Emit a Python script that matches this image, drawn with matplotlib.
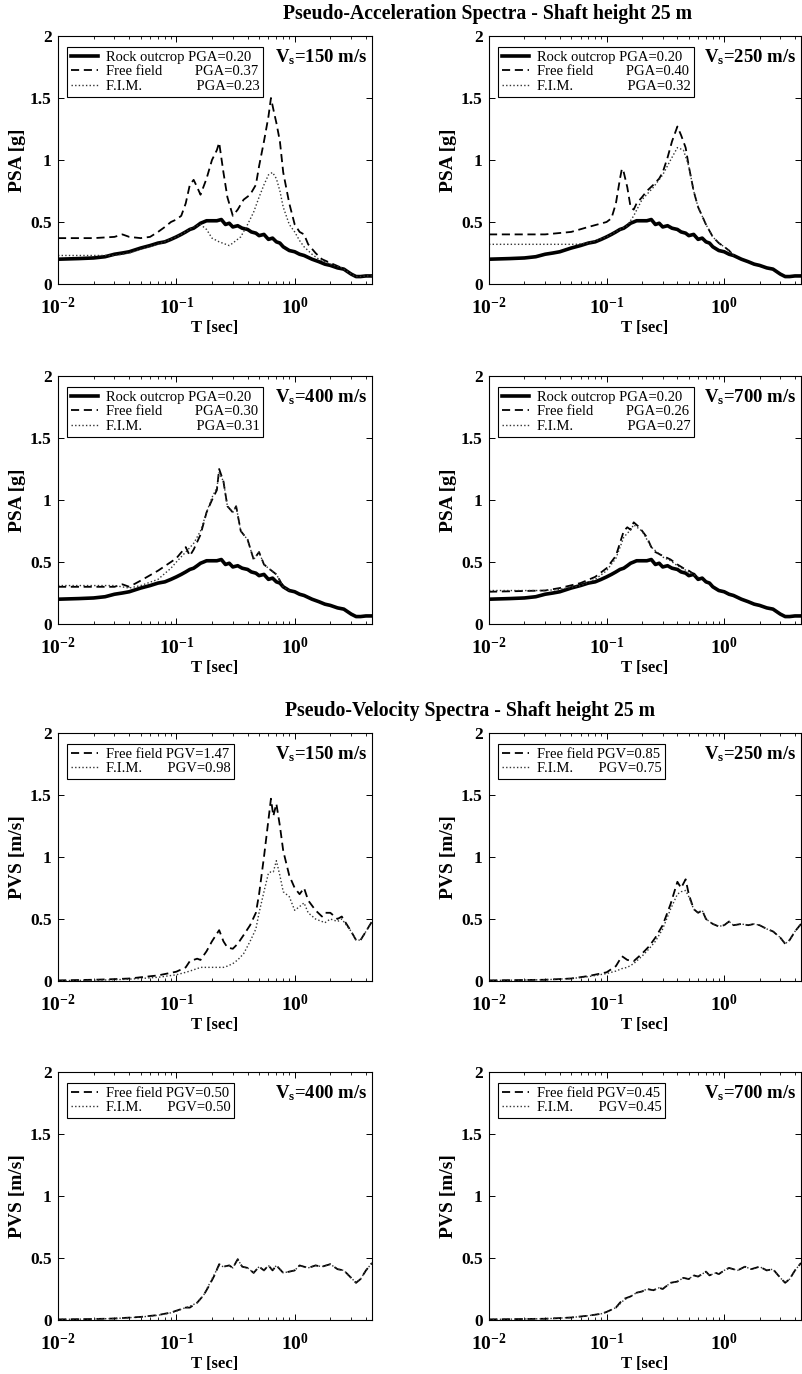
import matplotlib
matplotlib.use("Agg")
import matplotlib.pyplot as plt

plt.rcParams['font.family'] = ['Liberation Serif', 'DejaVu Serif']
plt.rcParams['mathtext.fontset'] = 'custom'
plt.rcParams['mathtext.rm'] = 'Liberation Serif:bold'
plt.rcParams['mathtext.bf'] = 'Liberation Serif:bold'

# ---- data (periods in s) ----
rock_T = [0.01, 0.015, 0.02, 0.025, 0.03, 0.035, 0.04, 0.05, 0.06, 0.07, 0.08, 0.09, 0.1, 0.11,
          0.12, 0.13, 0.14, 0.15, 0.16, 0.17, 0.18, 0.2, 0.22, 0.24, 0.26, 0.28, 0.3, 0.33, 0.36,
          0.4, 0.43, 0.47, 0.5, 0.55, 0.6, 0.65, 0.7, 0.75, 0.8, 0.9, 1.0, 1.1, 1.2, 1.4, 1.6,
          1.8, 2.0, 2.3, 2.6, 3.0, 3.3, 3.6, 4.0, 4.5]
rock_psa = [0.20, 0.205, 0.21, 0.22, 0.24, 0.25, 0.26, 0.29, 0.31, 0.33, 0.34, 0.36, 0.38, 0.40,
            0.42, 0.44, 0.45, 0.47, 0.49, 0.50, 0.51, 0.51, 0.51, 0.52, 0.48, 0.49, 0.46, 0.47, 0.45,
            0.44, 0.42, 0.41, 0.39, 0.40, 0.36, 0.37, 0.34, 0.33, 0.30, 0.27, 0.26, 0.24, 0.23, 0.20, 0.18,
            0.16, 0.15, 0.13, 0.12, 0.08, 0.06, 0.06, 0.065, 0.065]

ff150_T = [0.01, 0.02, 0.03, 0.035, 0.04, 0.05, 0.06, 0.07, 0.08, 0.09, 0.1, 0.11, 0.12, 0.13, 0.14,
           0.15, 0.16, 0.18, 0.2, 0.22, 0.23, 0.25, 0.27, 0.3, 0.33, 0.37, 0.42, 0.47, 0.5, 0.55,
           0.6, 0.63, 0.67, 0.7, 0.75, 0.8, 0.9, 1.0, 1.1, 1.2, 1.3, 1.5, 1.7, 2.0, 2.5, 3.0, 3.3,
           3.6, 4.0, 4.5]
ff150_psa = [0.37, 0.37, 0.38, 0.40, 0.38, 0.37, 0.38, 0.42, 0.46, 0.50, 0.52, 0.55, 0.65, 0.80, 0.84,
             0.78, 0.72, 0.85, 1.00, 1.08, 1.14, 0.90, 0.70, 0.55, 0.60, 0.68, 0.72, 0.80, 0.95, 1.15,
             1.35, 1.50, 1.38, 1.30, 1.15, 0.90, 0.65, 0.48, 0.42, 0.40, 0.32, 0.25, 0.20, 0.17, 0.13, 0.08,
             0.06, 0.06, 0.065, 0.065]
fim150_T = [0.01, 0.03, 0.04, 0.05, 0.07, 0.1, 0.12, 0.14, 0.16, 0.18, 0.2, 0.23, 0.28, 0.3, 0.35,
            0.4, 0.45, 0.5, 0.55, 0.6, 0.65, 0.7, 0.75, 0.8, 0.9, 1.0, 1.1, 1.2, 1.4, 1.6, 2.0, 2.5,
            3.0, 3.3, 3.6, 4.0, 4.5]
fim150_psa = [0.23, 0.23, 0.25, 0.28, 0.32, 0.38, 0.42, 0.46, 0.48, 0.44, 0.37, 0.34, 0.31, 0.33, 0.38,
              0.48, 0.58, 0.70, 0.80, 0.88, 0.90, 0.85, 0.75, 0.62, 0.48, 0.42, 0.35, 0.30, 0.24, 0.20, 0.16,
              0.13, 0.08, 0.06, 0.06, 0.065, 0.065]

ff250_T = [0.01, 0.03, 0.05, 0.07, 0.1, 0.11, 0.12, 0.13, 0.135, 0.14, 0.15, 0.16, 0.17, 0.18, 0.2,
           0.22, 0.25, 0.28, 0.3, 0.33, 0.36, 0.4, 0.43, 0.47, 0.5, 0.55, 0.6, 0.7, 0.8, 0.9, 1.0,
           1.1, 1.2]
ff250_psa = [0.40, 0.40, 0.42, 0.46, 0.50, 0.53, 0.65, 0.85, 0.93, 0.90, 0.78, 0.62, 0.60, 0.65, 0.70,
             0.75, 0.80, 0.85, 0.90, 1.02, 1.15, 1.27, 1.20, 1.10, 0.95, 0.75, 0.62, 0.48, 0.38, 0.33, 0.30,
             0.27, 0.23]
fim250_T = [0.01, 0.055, 0.07, 0.1, 0.13, 0.15, 0.17, 0.2, 0.25, 0.3, 0.35, 0.4, 0.45, 0.5, 0.55, 0.6,
            0.7, 0.8, 0.9, 1.0, 1.1, 1.2]
fim250_psa = [0.32, 0.32, 0.33, 0.38, 0.44, 0.47, 0.55, 0.68, 0.78, 0.88, 1.00, 1.10, 1.08, 0.95, 0.75,
              0.62, 0.48, 0.38, 0.33, 0.30, 0.27, 0.23]

ff400_T = [0.01, 0.03, 0.035, 0.04, 0.05, 0.07, 0.09, 0.1, 0.12, 0.13, 0.14, 0.16, 0.18, 0.2, 0.22,
           0.23, 0.25, 0.27, 0.3, 0.32, 0.35, 0.4, 0.45, 0.5, 0.55, 0.6, 0.7, 0.75, 0.8, 0.9]
ff400_psa = [0.30, 0.30, 0.32, 0.30, 0.35, 0.43, 0.50, 0.53, 0.62, 0.55, 0.60, 0.72, 0.90, 1.00, 1.08,
             1.25, 1.15, 0.95, 0.90, 0.95, 0.75, 0.68, 0.52, 0.58, 0.48, 0.45, 0.40, 0.35, 0.30, 0.27]
fim400_T = [0.01, 0.03, 0.04, 0.05, 0.07, 0.09, 0.1, 0.12, 0.14, 0.16, 0.18, 0.2, 0.22, 0.23, 0.25,
            0.27, 0.3, 0.32, 0.35, 0.4, 0.45, 0.5, 0.55, 0.6, 0.7, 0.75, 0.8, 0.9]
fim400_psa = [0.31, 0.31, 0.29, 0.31, 0.36, 0.45, 0.50, 0.58, 0.65, 0.75, 0.90, 1.02, 1.10, 1.22, 1.15,
              0.95, 0.90, 0.95, 0.75, 0.68, 0.52, 0.58, 0.48, 0.45, 0.40, 0.35, 0.30, 0.27]

ff700_T = [0.01, 0.03, 0.04, 0.06, 0.08, 0.1, 0.12, 0.14, 0.15, 0.16, 0.17, 0.19, 0.22, 0.24, 0.26,
           0.3, 0.35, 0.4, 0.45, 0.5, 0.6]
ff700_psa = [0.26, 0.27, 0.29, 0.33, 0.38, 0.45, 0.55, 0.75, 0.78, 0.76, 0.82, 0.78, 0.70, 0.62, 0.58,
             0.55, 0.52, 0.48, 0.45, 0.43, 0.38]
fim700_T = [0.01, 0.03, 0.04, 0.06, 0.08, 0.1, 0.12, 0.14, 0.16, 0.17, 0.2, 0.24, 0.3, 0.35, 0.4,
            0.5, 0.6]
fim700_psa = [0.27, 0.27, 0.28, 0.31, 0.36, 0.43, 0.53, 0.70, 0.76, 0.80, 0.75, 0.62, 0.54, 0.51, 0.47,
              0.42, 0.38]

# pseudo-velocity (m/s)
v150_T = [0.01, 0.02, 0.03, 0.04, 0.05, 0.07, 0.1, 0.12, 0.13, 0.15, 0.16, 0.18, 0.2, 0.23, 0.25,
          0.27, 0.3, 0.33, 0.37, 0.42, 0.47, 0.5, 0.55, 0.6, 0.63, 0.66, 0.7, 0.75, 0.8, 0.9, 1.0,
          1.1, 1.2, 1.3, 1.5, 1.7, 1.8, 2.0, 2.3, 2.5, 3.0, 3.3, 3.6, 4.0, 4.5]
ff150_pvs = [0.005, 0.01, 0.015, 0.02, 0.03, 0.045, 0.075, 0.11, 0.16, 0.18, 0.17, 0.24, 0.32, 0.41, 0.32,
             0.27, 0.26, 0.30, 0.37, 0.45, 0.55, 0.70, 1.00, 1.30, 1.47, 1.33, 1.43, 1.25, 1.05, 0.85, 0.75,
             0.70, 0.75, 0.65, 0.57, 0.52, 0.55, 0.55, 0.50, 0.52, 0.40, 0.33, 0.33, 0.40, 0.48]
fim150_pvs = [0.003, 0.006, 0.01, 0.015, 0.02, 0.03, 0.05, 0.07, 0.08, 0.10, 0.11, 0.11, 0.11, 0.11, 0.11,
              0.12, 0.14, 0.17, 0.22, 0.32, 0.42, 0.55, 0.72, 0.87, 0.88, 0.88, 0.97, 0.85, 0.72, 0.68, 0.57,
              0.60, 0.63, 0.55, 0.50, 0.48, 0.47, 0.50, 0.48, 0.50, 0.40, 0.33, 0.33, 0.40, 0.48]

v250_T = [0.01, 0.03, 0.05, 0.07, 0.1, 0.12, 0.135, 0.15, 0.17, 0.2, 0.23, 0.26, 0.3, 0.35, 0.4,
          0.43, 0.47, 0.5, 0.55, 0.6, 0.65, 0.7, 0.8, 0.9, 1.0, 1.1, 1.2, 1.4, 1.6, 1.8, 2.0, 2.3,
          2.6, 3.0, 3.3, 3.6, 4.0, 4.5]
ff250_pvs = [0.005, 0.01, 0.02, 0.04, 0.07, 0.12, 0.20, 0.17, 0.16, 0.22, 0.28, 0.35, 0.45, 0.62, 0.80,
             0.75, 0.82, 0.70, 0.58, 0.55, 0.57, 0.50, 0.46, 0.44, 0.45, 0.48, 0.45, 0.46, 0.45, 0.46, 0.45,
             0.42, 0.40, 0.35, 0.30, 0.33, 0.40, 0.46]
fim250_pvs = [0.004, 0.01, 0.02, 0.035, 0.06, 0.08, 0.10, 0.11, 0.14, 0.20, 0.26, 0.32, 0.42, 0.58, 0.70,
              0.72, 0.73, 0.68, 0.58, 0.55, 0.57, 0.50, 0.46, 0.44, 0.45, 0.48, 0.45, 0.46, 0.45, 0.46, 0.45,
              0.42, 0.40, 0.35, 0.30, 0.33, 0.40, 0.46]

v400_T = [0.01, 0.02, 0.03, 0.05, 0.07, 0.09, 0.1, 0.12, 0.13, 0.15, 0.17, 0.19, 0.21, 0.23, 0.25,
          0.28, 0.3, 0.33, 0.36, 0.4, 0.45, 0.5, 0.55, 0.6, 0.65, 0.7, 0.8, 0.9, 1.0, 1.1, 1.3, 1.5,
          1.7, 2.0, 2.3, 2.6, 3.0, 3.3, 3.6, 4.0, 4.5]
ff400_pvs = [0.005, 0.008, 0.012, 0.025, 0.04, 0.06, 0.075, 0.10, 0.10, 0.14, 0.20, 0.28, 0.36, 0.45, 0.43,
             0.44, 0.42, 0.49, 0.43, 0.42, 0.38, 0.43, 0.40, 0.44, 0.40, 0.44, 0.38, 0.39, 0.40, 0.44, 0.42,
             0.44, 0.43, 0.45, 0.41, 0.40, 0.34, 0.30, 0.33, 0.40, 0.46]
fim400_pvs = [0.005, 0.008, 0.012, 0.024, 0.038, 0.058, 0.072, 0.10, 0.11, 0.14, 0.20, 0.29, 0.37, 0.44, 0.43,
              0.44, 0.42, 0.49, 0.43, 0.42, 0.38, 0.43, 0.40, 0.44, 0.40, 0.44, 0.38, 0.39, 0.40, 0.44, 0.42,
              0.44, 0.43, 0.45, 0.41, 0.40, 0.34, 0.30, 0.33, 0.40, 0.46]

v700_T = [0.01, 0.03, 0.05, 0.07, 0.09, 0.1, 0.12, 0.13, 0.14, 0.16, 0.18, 0.2, 0.22, 0.25, 0.28,
          0.3, 0.35, 0.4, 0.45, 0.5, 0.55, 0.6, 0.7, 0.75, 0.85, 0.9, 1.0, 1.1, 1.3, 1.5, 1.7, 2.0,
          2.3, 2.6, 3.0, 3.3, 3.6, 4.0, 4.5]
ff700_pvs = [0.005, 0.01, 0.02, 0.035, 0.05, 0.065, 0.10, 0.14, 0.17, 0.19, 0.22, 0.23, 0.25, 0.24, 0.26,
             0.25, 0.30, 0.31, 0.34, 0.33, 0.36, 0.35, 0.39, 0.36, 0.38, 0.37, 0.40, 0.42, 0.40, 0.43, 0.41,
             0.43, 0.40, 0.41, 0.34, 0.30, 0.33, 0.40, 0.46]
fim700_pvs = [0.005, 0.01, 0.02, 0.035, 0.05, 0.065, 0.10, 0.13, 0.16, 0.19, 0.22, 0.23, 0.25, 0.24, 0.26,
              0.25, 0.30, 0.31, 0.34, 0.33, 0.36, 0.35, 0.39, 0.36, 0.38, 0.37, 0.40, 0.42, 0.40, 0.43, 0.41,
              0.43, 0.40, 0.41, 0.34, 0.30, 0.33, 0.40, 0.46]

vs_labels = ['150', '250', '400', '700']
pga_ff = ['0.37', '0.40', '0.30', '0.26']
pga_fim = ['0.23', '0.32', '0.31', '0.27']
pgv_ff = ['1.47', '0.85', '0.50', '0.45']
pgv_fim = ['0.98', '0.75', '0.50', '0.45']

psa_ff = [(ff150_T, ff150_psa), (ff250_T, ff250_psa), (ff400_T, ff400_psa), (ff700_T, ff700_psa)]
psa_fim = [(fim150_T, fim150_psa), (fim250_T, fim250_psa), (fim400_T, fim400_psa), (fim700_T, fim700_psa)]
pvs_ff = [(v150_T, ff150_pvs), (v250_T, ff250_pvs), (v400_T, ff400_pvs), (v700_T, ff700_pvs)]
pvs_fim = [(v150_T, fim150_pvs), (v250_T, fim250_pvs), (v400_T, fim400_pvs), (v700_T, fim700_pvs)]

W, H = 802, 1374
fig = plt.figure(figsize=(W / 100, H / 100), dpi=100)

col_x = [58, 489]
col_w = [314, 312]
row_top = [36, 376, 733, 1072]
row_h = 248

DASH = (0, (4.5, 2.6))
DOT = (0, (1, 1.6))


def make_axes(row, col):
    ax = fig.add_axes([col_x[col] / W, 1 - (row_top[row] + row_h) / H, col_w[col] / W, row_h / H])
    ax.set_xscale('log')
    ax.set_xlim(0.01, 4.5)
    ax.set_ylim(0, 2)
    ax.set_xticks([0.01, 0.1, 1])
    ax.set_xticklabels([r'$\mathbf{10^{-2}}$', r'$\mathbf{10^{-1}}$', r'$\mathbf{10^{0}}$'], fontsize=14)
    ax.set_yticks([0, 0.5, 1, 1.5, 2])
    ax.set_yticklabels(['0', '0.5', '1', '1.5', '2'], fontsize=12.5, fontweight='bold')
    ax.tick_params(which='both', direction='in', top=True, right=True)
    ax.tick_params(axis='x', which='major', pad=9)
    ax.tick_params(axis='y', which='major', pad=4.5)
    ax.tick_params(which='major', length=4, width=0.7)
    ax.tick_params(which='minor', length=2.5, width=0.6)
    for s in ax.spines.values():
        s.set_linewidth(0.8)
    ax.set_xlabel('T [sec]', fontsize=12, fontweight='bold', labelpad=2)
    return ax


def add_legend(ax):
    leg = ax.legend(loc='upper left', bbox_to_anchor=(0.029, 0.956), borderaxespad=0,
                    fontsize=10.5, fancybox=False, framealpha=1, edgecolor='black',
                    handlelength=1.85, labelspacing=0.1, borderpad=0.25, handletextpad=0.55)
    leg.get_frame().set_linewidth(0.8)


def add_vs(ax, vs):
    ax.text(0.985, 0.895, r'$\mathbf{V_s}$=' + vs + ' m/s', transform=ax.transAxes,
            ha='right', va='baseline', fontsize=13.5, fontweight='bold')


for i in range(4):
    row, col = divmod(i, 2)
    ax = make_axes(row, col)
    ax.plot(rock_T, rock_psa, color='black', lw=2.6, label='Rock outcrop PGA=0.20')
    ax.plot(psa_ff[i][0], psa_ff[i][1], color='black', lw=1.3, ls=DASH,
            label='Free field' + ' ' * 9 + 'PGA=' + pga_ff[i])
    ax.plot(psa_fim[i][0], psa_fim[i][1], color='0.2', lw=1.0, ls=DOT,
            label='F.I.M.' + ' ' * 15 + 'PGA=' + pga_fim[i])
    ax.set_ylabel('PSA [g]', fontsize=14, fontweight='bold', labelpad=3)
    add_legend(ax)
    add_vs(ax, vs_labels[i])

for i in range(4):
    row, col = divmod(i, 2)
    ax = make_axes(row + 2, col)
    ax.plot(pvs_ff[i][0], pvs_ff[i][1], color='black', lw=1.3, ls=DASH,
            label='Free field PGV=' + pgv_ff[i])
    ax.plot(pvs_fim[i][0], pvs_fim[i][1], color='0.2', lw=1.0, ls=DOT,
            label='F.I.M.' + ' ' * 7 + 'PGV=' + pgv_fim[i])
    ax.set_ylabel('PVS [m/s]', fontsize=14, fontweight='bold', labelpad=3)
    add_legend(ax)
    add_vs(ax, vs_labels[i])

fig.text(488 / W, 1 - 14 / H, 'Pseudo-Acceleration Spectra - Shaft height 25 m',
         ha='center', va='center', fontsize=14.2, fontweight='bold')
fig.text(470 / W, 1 - 711 / H, 'Pseudo-Velocity Spectra - Shaft height 25 m',
         ha='center', va='center', fontsize=14.2, fontweight='bold')

fig.savefig('out.png', dpi=100)
